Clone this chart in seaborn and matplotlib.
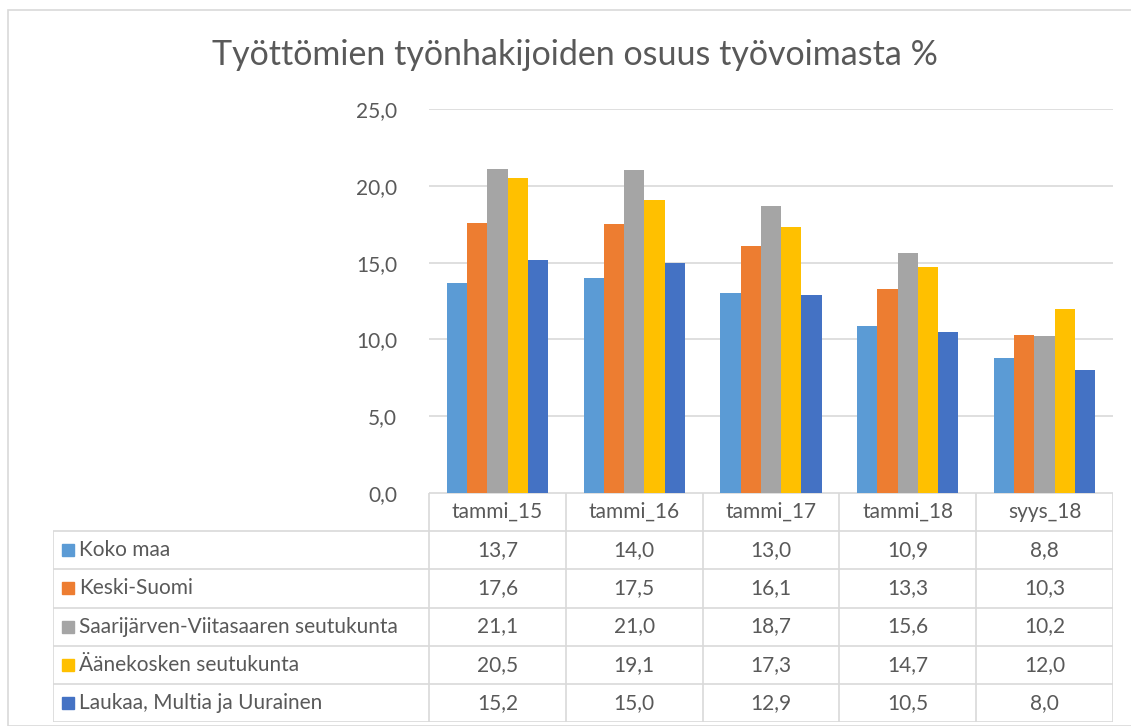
import pandas as pd
import seaborn as sns
import matplotlib.pyplot as plt
from matplotlib.ticker import FuncFormatter
from matplotlib.patches import Rectangle

periods = ["tammi_15", "tammi_16", "tammi_17", "tammi_18", "syys_18"]
regions = ["Koko maa", "Keski-Suomi", "Saarijärven-Viitasaaren seutukunta",
           "Äänekosken seutukunta", "Laukaa, Multia ja Uurainen"]
koko_maa = [13.7, 14.0, 13.0, 10.9, 8.8]
keski_suomi = [17.6, 17.5, 16.1, 13.3, 10.3]
saarijarvi = [21.1, 21.0, 18.7, 15.6, 10.2]
aanekoski = [20.5, 19.1, 17.3, 14.7, 12.0]
laukaa = [15.2, 15.0, 12.9, 10.5, 8.0]
colors = ["#5B9BD5", "#ED7D31", "#A5A5A5", "#FFC000", "#4472C4"]

series = [koko_maa, keski_suomi, saarijarvi, aanekoski, laukaa]
df = pd.DataFrame([(p, r, v) for r, vals in zip(regions, series)
                   for p, v in zip(periods, vals)],
                  columns=["period", "region", "value"])

sns.set_style("white")
plt.rcParams['font.family'] = ['Lato', 'DejaVu Sans']
TXT = "#595959"
GRID = "#D9D9D9"
FS = 15

W, H = 1131, 726
fig = plt.figure(figsize=(W / 100, H / 100), dpi=100)

# chart area border
fig.patches.append(Rectangle((8 / W, 0), 1.2, 1 - 10 / H, transform=fig.transFigure,
                             fill=False, edgecolor=GRID, linewidth=1.2))

ax_l, ax_r, ax_b, ax_t = 429, 1113, 493, 109
ax = fig.add_axes([ax_l / W, 1 - ax_b / H, (ax_r - ax_l) / W, (ax_b - ax_t) / H])
sns.barplot(data=df, x="period", y="value", hue="region", order=periods,
            hue_order=regions, palette=colors, width=0.74, linewidth=0,
            saturation=1, ax=ax, legend=False)
ax.set_ylim(0, 25)
ax.set_xlim(-0.5, 4.5)
ax.set_yticks([0, 5, 10, 15, 20, 25])
ax.yaxis.set_major_formatter(FuncFormatter(lambda v, p: f"{v:.1f}".replace(".", ",")))
ax.tick_params(axis="y", length=0, pad=23, labelsize=FS, labelcolor=TXT)
ax.set_xticks([])
ax.set_xlabel("")
ax.set_ylabel("")
ax.grid(axis="y", color=GRID, linewidth=1.2)
ax.set_axisbelow(True)
for s in ax.spines.values():
    s.set_visible(False)

fig.text(0.508, 1 - 55 / H, "Työttömien työnhakijoiden osuus työvoimasta %",
         ha="center", va="center", fontsize=24.5, color=TXT)

# data table
tb_left, tb_bottom = 53, 722
cat_w = (ax_r - ax_l) / 5
x0 = -0.5 - (ax_l - tb_left) / cat_w
tax = fig.add_axes([tb_left / W, 1 - tb_bottom / H, (ax_r - tb_left) / W,
                    (tb_bottom - ax_b) / H])
tax.set_xlim(x0, 4.5)
tax.set_ylim(6, 0)
tax.axis("off")
lw = 1.2
tax.hlines(0, -0.5, 4.5, color=GRID, lw=lw)
tax.hlines(range(1, 7), x0, 4.5, color=GRID, lw=lw)
tax.vlines([i - 0.5 for i in range(6)], 0, 6, color=GRID, lw=lw)
tax.vlines(x0, 1, 6, color=GRID, lw=lw)
for j, p in enumerate(periods):
    tax.text(j, 0.5, p, ha="center", va="center", fontsize=FS, color=TXT)
for i, (r, vals, c) in enumerate(zip(regions, series, colors)):
    y = i + 1.5
    tax.plot(x0 + 0.11, y, marker="s", markersize=9, color=c, clip_on=False)
    tax.text(x0 + 0.19, y, r, ha="left", va="center", fontsize=FS, color=TXT)
    for j, v in enumerate(vals):
        tax.text(j, y, f"{v:.1f}".replace(".", ","), ha="center", va="center",
                 fontsize=FS, color=TXT)

fig.savefig("out.png", dpi=100)
